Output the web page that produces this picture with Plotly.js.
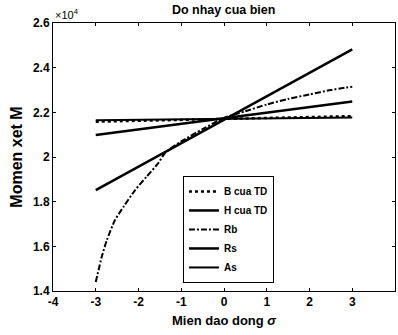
<!DOCTYPE html>
<html>
<head>
<meta charset="utf-8">
<script src="https://cdn.plot.ly/plotly-3.0.1.min.js"></script>
<style>html,body{margin:0;padding:0;background:#fff;}#chart{width:398px;height:335px;}</style>
</head>
<body>
<div id="chart"></div>
<script>
// Data (moment M, real units; axis shows x10^4)
const xLin = [-3, -2, -1, 0, 1, 2, 3];
const bCuaTD = [21580, 21620, 21660, 21700, 21750, 21790, 21830];
const hCuaTD = [18520, 19570, 20620, 21670, 22720, 23770, 24820];
const rs = [20980, 21230, 21480, 21730, 21980, 22230, 22480];
const as = [21650, 21670, 21690, 21710, 21730, 21750, 21770];
const xRb = [-3, -2.86, -2.74, -2.55, -2.35, -2.08, -1.81, -1.54, -1.38, -1, -0.5, 0, 0.5, 1, 1.5, 2, 2.5, 3];
const rb = [14400, 15530, 16280, 17180, 17770, 18520, 19120, 19720, 20180, 20700, 21250, 21750, 22050, 22350, 22600, 22800, 23000, 23150];
const seriesNames = ["B cua TD", "H cua TD", "Rb", "Rs", "As"];
const yTickVals = [14000, 16000, 18000, 20000, 22000, 24000, 26000];
const yTickText = ["1.4", "1.6", "1.8", "2", "2.2", "2.4", "2.6"];
const xTickVals = [-4, -3, -2, -1, 0, 1, 2, 3, 4];
const xTickText = ["-4", "-3", "-2", "-1", "0", "1", "2", "3", "4"];

const F = "Liberation Sans, Arial, sans-serif";
const bold = s => "<b>" + s + "</b>";
const traces = [
  {x: xLin, y: bCuaTD, name: bold(seriesNames[0]), mode: "lines", line: {color: "#000", width: 2.5, dash: "dot"}},
  {x: xLin, y: hCuaTD, name: bold(seriesNames[1]), mode: "lines", line: {color: "#000", width: 2.5}},
  {x: xRb, y: rb, name: bold(seriesNames[2]), mode: "lines", line: {color: "#000", width: 2, dash: "6px,2px,2px,2px", shape: "spline", smoothing: 0.6}},
  {x: xLin, y: rs, name: bold(seriesNames[3]), mode: "lines", line: {color: "#000", width: 2.5}},
  {x: xLin, y: as, name: bold(seriesNames[4]), mode: "lines", line: {color: "#000", width: 2}}
];
const layout = {
  width: 398, height: 335,
  margin: {l: 53, r: 3, t: 23, b: 44},
  paper_bgcolor: "#fff", plot_bgcolor: "#fff",
  font: {family: F, size: 11, color: "#000"},
  title: {text: "<b>Do nhay cua bien</b>", x: 0.562, xanchor: "center", y: 0.985, yanchor: "top", font: {size: 12.5, family: F, color: "#000"}},
  xaxis: {
    range: [-4, 4], tickvals: xTickVals, ticktext: xTickText.map(bold), ticks: "inside", ticklen: 3, tickcolor: "#000",
    showline: true, linecolor: "#000", linewidth: 1, mirror: "ticks", showgrid: false, zeroline: false,
    tickfont: {size: 12, family: F, color: "#000"},
    title: {text: "<b>Mien dao dong <i>σ</i></b>", font: {size: 13, family: F, color: "#000"}, standoff: 7}
  },
  yaxis: {
    range: [14000, 26000], tickvals: yTickVals, ticktext: yTickText.map(bold), ticks: "inside", ticklen: 3, tickcolor: "#000",
    showline: true, linecolor: "#000", linewidth: 1, mirror: "ticks", showgrid: false, zeroline: false,
    tickfont: {size: 12, family: F, color: "#000"},
    title: {text: "<b>Momen xet M</b>", font: {size: 16, family: F, color: "#000"}, standoff: 6}
  },
  legend: {
    x: 0.38, y: 0.03, xanchor: "left", yanchor: "bottom",
    bgcolor: "#fff", bordercolor: "#000", borderwidth: 1,
    font: {size: 10, family: F, color: "#000"}, tracegroupgap: 0, itemwidth: 30
  },
  annotations: [{
    text: "×10<sup>4</sup>", xref: "paper", yref: "paper", x: 0, y: 1, xanchor: "left", yanchor: "bottom",
    showarrow: false, font: {size: 11, family: F, color: "#000"}, yshift: 0
  }],
  showlegend: true
};
Plotly.newPlot("chart", traces, layout, {staticPlot: true, displayModeBar: false});
</script>
</body>
</html>
